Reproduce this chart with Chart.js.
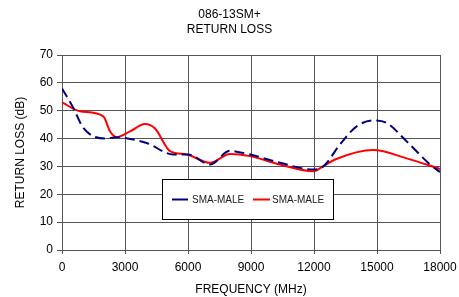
<!DOCTYPE html>
<html>
<head>
<meta charset="utf-8">
<script src="https://cdn.jsdelivr.net/npm/chart.js@4/dist/chart.umd.min.js"></script>
<style>
  html, body { margin: 0; padding: 0; background: #fff; }
  #wrap { width: 459px; height: 297px; }
</style>
</head>
<body>
<div id="wrap"><canvas id="rl-chart" width="459" height="297"></canvas></div>
<script>
// values
var freqBlue = [0, 540, 1016, 2048, 2600, 3000, 4032, 5300, 6000, 7048, 8000, 8317, 8952, 10381, 11968, 12444, 13238, 14032, 14825, 15460, 16413, 17524, 18000];
var lossBlue = [58, 51, 43.8, 40, 40.5, 40.2, 38.4, 34.3, 34.3, 30.7, 35.6, 35.3, 34.3, 31.3, 28.9, 30, 37.9, 44.4, 46.5, 45.6, 39, 30.7, 28];

var freqRed = [0, 857, 1968, 2286, 2603, 3238, 3952, 4429, 5143, 5937, 7048, 8000, 8952, 10381, 11968, 12444, 13000, 14825, 16413, 18000];
var lossRed = [53, 49.8, 48, 42.6, 40.5, 42.6, 45.2, 43.6, 35.5, 34.3, 31.3, 34.5, 33.7, 30.7, 28.3, 30.1, 32.5, 35.9, 32.9, 29.1];

var xTicks = [0, 3000, 6000, 9000, 12000, 15000, 18000];
var seriesNames = ["SMA-MALE", "SMA-MALE"];

function toPoints(xs, ys){
	return xs.map(function(x, i){ return {x: x, y: ys[i]}; });
}

// legend box drawn inside the plot area
var boxLegend = {
	id: 'boxLegend',
	afterDraw: function(chart){
		var ctx = chart.ctx;
		var ds = chart.data.datasets;
		ctx.save();
		ctx.fillStyle = '#fff';
		ctx.fillRect(162, 179, 171, 40);
		ctx.strokeStyle = '#000';
		ctx.lineWidth = 1;
		ctx.strokeRect(162.5, 179.5, 171, 40);
		var items = [{x1: 172, x2: 188, tx: 192}, {x1: 253, x2: 270, tx: 272}];
		ctx.font = '10px "Liberation Sans", Arial, sans-serif';
		ctx.textBaseline = 'middle';
		for (var i = 0; i < items.length; i++) {
			ctx.strokeStyle = ds[i].borderColor;
			ctx.lineWidth = 2;
			ctx.beginPath();
			ctx.moveTo(items[i].x1, 199.5);
			ctx.lineTo(items[i].x2, 199.5);
			ctx.stroke();
			ctx.fillStyle = '#222';
			ctx.fillText(ds[i].label, items[i].tx, 200);
		}
		ctx.restore();
	}
};

new Chart(document.getElementById("rl-chart"), {
	type: 'line',
	data: {
		datasets: [
			{
				label: seriesNames[0],
				data: toPoints(freqBlue, lossBlue),
				borderColor: '#000080',
				borderWidth: 2,
				borderDash: [10, 5],
				pointRadius: 0,
				cubicInterpolationMode: 'monotone',
				fill: false
			},
			{
				label: seriesNames[1],
				data: toPoints(freqRed, lossRed),
				borderColor: '#ff0000',
				borderWidth: 2,
				pointRadius: 0,
				cubicInterpolationMode: 'monotone',
				fill: false
			}
		]
	},
	options: {
		responsive: false,
		animation: false,
		layout: { padding: { left: 0, right: 0, top: 0, bottom: 0 } },
		plugins: {
			legend: { display: false },
			tooltip: { enabled: false },
			title: {
				display: true,
				text: ['086-13SM+', 'RETURN LOSS'],
				color: '#000',
				font: { family: '"Liberation Sans", Arial, sans-serif', size: 12, weight: 'normal', lineHeight: 1.25 },
				padding: { top: 7, bottom: 18 }
			}
		},
		scales: {
			x: {
				type: 'linear',
				min: 0,
				max: 18000,
				afterBuildTicks: function(scale){
					scale.ticks = xTicks.map(function(v){ return {value: v}; });
				},
				afterFit: function(scale){
					scale.height = 47;
					scale.paddingRight = 19;
					scale.paddingLeft = 0;
				},
				ticks: {
					color: '#000',
					font: { family: '"Liberation Sans", Arial, sans-serif', size: 12 },
					padding: 6,
					maxRotation: 0,
					autoSkip: false,
					callback: function(v){ return String(v); }
				},
				grid: { color: '#555', lineWidth: 1, tickLength: 4, drawTicks: true },
				border: { color: '#555' },
				title: {
					display: true,
					text: 'FREQUENCY (MHz)',
					color: '#000',
					font: { family: '"Liberation Sans", Arial, sans-serif', size: 12 },
					padding: { top: 0, bottom: 0 }
				}
			},
			y: {
				min: 0,
				max: 70,
				afterFit: function(scale){ scale.width = 62; },
				ticks: {
					stepSize: 10,
					color: '#000',
					font: { family: '"Liberation Sans", Arial, sans-serif', size: 12 },
					padding: 4
				},
				grid: { color: '#555', lineWidth: 1, tickLength: 5, drawTicks: true },
				border: { color: '#555' },
				title: {
					display: true,
					text: 'RETURN LOSS (dB)',
					color: '#000',
					font: { family: '"Liberation Sans", Arial, sans-serif', size: 12 },
					padding: { top: 13, bottom: 0 }
				}
			}
		}
	},
	plugins: [boxLegend]
});
</script>
</body>
</html>
